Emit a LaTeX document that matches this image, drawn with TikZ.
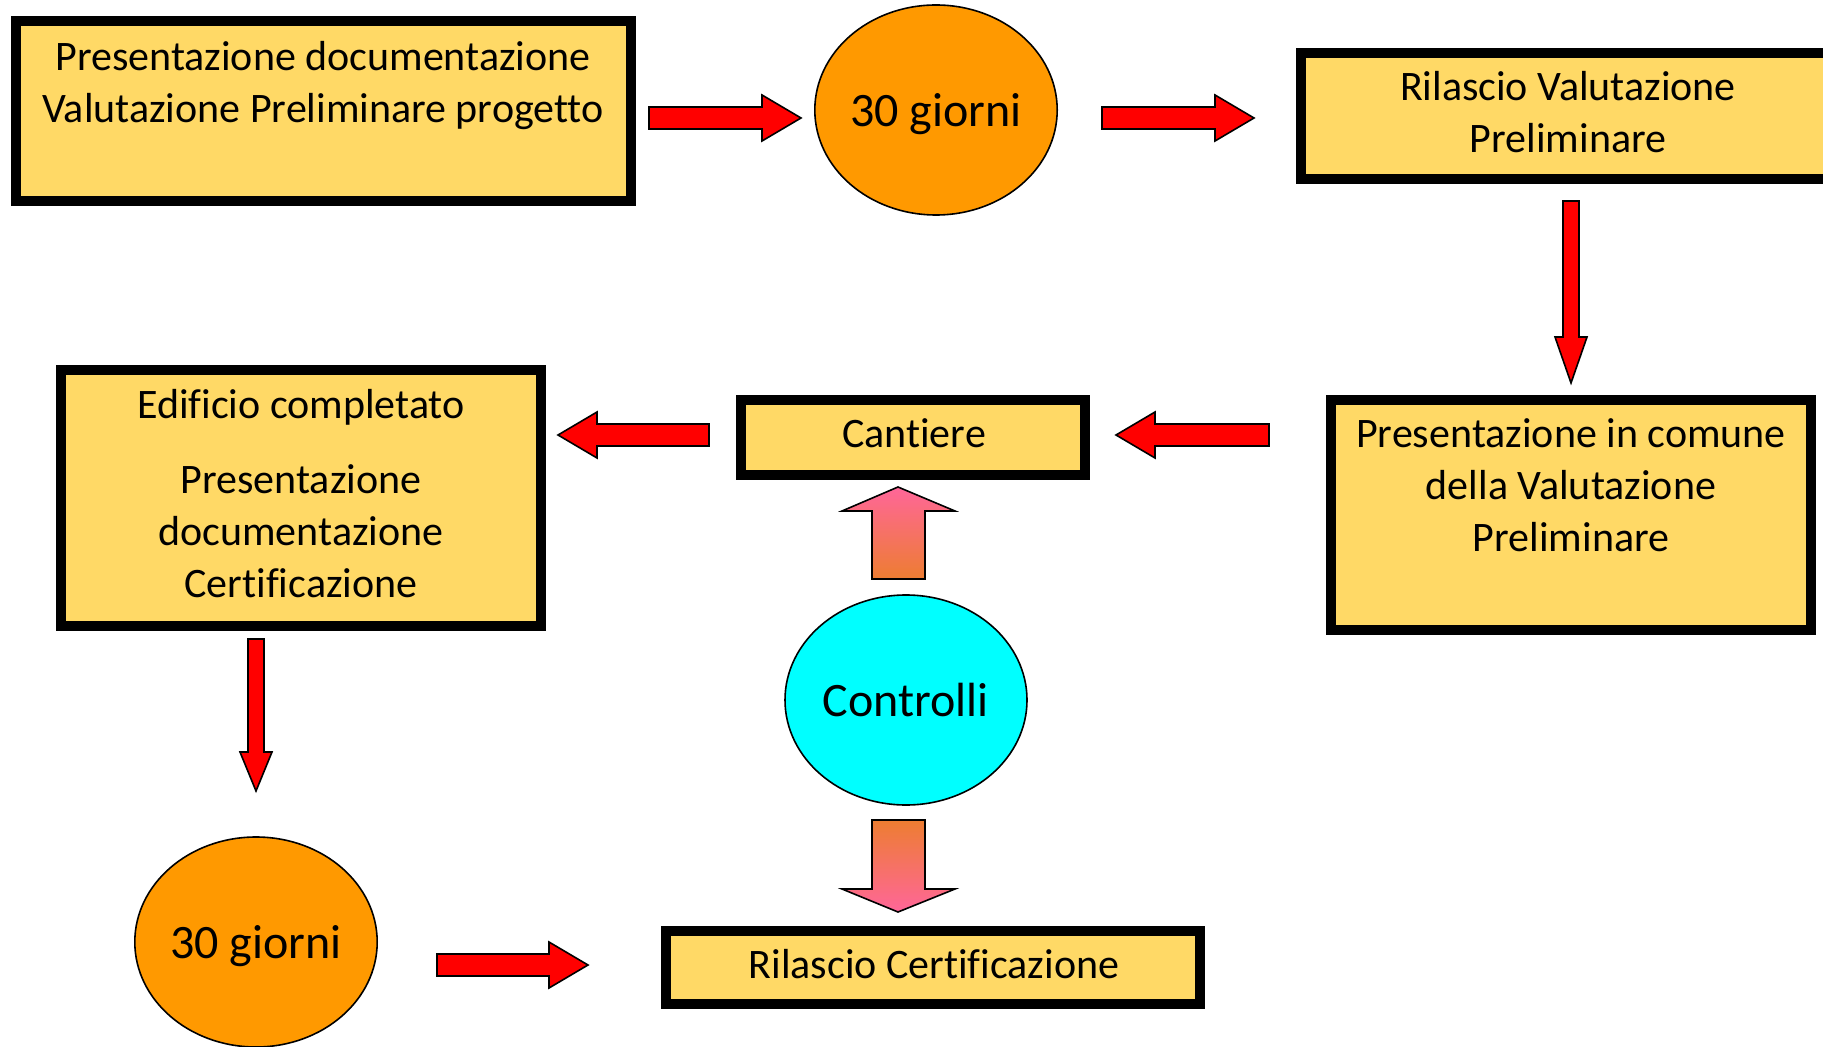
\documentclass[tikz,border=0pt]{standalone}
\usepackage{fontspec}
\setmainfont{Carlito}[RawFeature={-liga;-clig;-dlig}]
\usetikzlibrary{shapes.geometric}
\definecolor{boxfill}{HTML}{FFD966}
\definecolor{circorange}{HTML}{FF9900}
\definecolor{circcyan}{HTML}{00FFFF}
\definecolor{arrred}{HTML}{FF0000}
\definecolor{gpink}{HTML}{FF6699}
\definecolor{gorange}{HTML}{ED7D31}
\tikzset{
  box/.style={draw=black, line width=5pt, fill=boxfill, rectangle, inner sep=0pt},
  boxtxt/.style={font=\fontsize{21}{26}\selectfont, align=center, inner sep=0pt},
  circ/.style={draw=black, line width=0.8pt, ellipse, minimum width=121pt, minimum height=105pt, inner sep=0pt, font=\fontsize{24}{29}\selectfont},
  redarrow/.style={draw=black, line width=0.8pt, fill=arrred, line join=miter},
  pinkup/.style={draw=black, line width=0.8pt, top color=gpink, bottom color=gorange, line join=miter},
  pinkdown/.style={draw=black, line width=0.8pt, top color=gorange, bottom color=gpink, line join=miter}
}
\begin{document}
\begin{tikzpicture}[x=0.5pt, y=-0.5pt]
\useasboundingbox (0,0) rectangle (1823,1047);
\clip (0,0) rectangle (1823,1047);
\fill[white] (0,0) rectangle (1823,1047);

% boxes
\node[box, minimum width=307.5pt, minimum height=90pt] (b1) at (323.5,111) {};
\node[boxtxt] (b1t) at (323,85.5) {Presentazione documentazione\\Valutazione Preliminare progetto};

\node[box, minimum width=267.5pt, minimum height=63pt] (b3) at (1568.5,116) {};
\node[boxtxt] (b3t) at (1568,112.5) {Rilascio Valutazione\\Preliminare};

\node[box, minimum width=240pt, minimum height=115pt] (b4) at (1571,515) {};
\node[boxtxt] (b4t) at (1571,485.5) {Presentazione in comune\\della Valutazione\\Preliminare};

\node[box, minimum width=172pt, minimum height=37.5pt] (cant) at (913,437.5) {};
\node[boxtxt] (cantt) at (914,433) {Cantiere};

\node[box, minimum width=240pt, minimum height=128pt] (edif) at (301,498) {};
\node[boxtxt] (edift) at (301,494) {Edificio completato\\[11.5pt]Presentazione\\documentazione\\Certificazione};

\node[box, minimum width=267pt, minimum height=36.5pt] (rilc) at (933,967.5) {};
\node[boxtxt] (rilct) at (934,964) {Rilascio Certificazione};

% circles
\node[circ, fill=circorange, text depth=0pt] (c1) at (936,110) {30 giorni};
\node[circ, fill=circorange, text depth=0pt] (c2) at (256,942) {30 giorni};
\node[circ, fill=circcyan] (ctrl) at (906,700) {Controlli};

% red block arrows
% b1 -> c1
\draw[redarrow] (649,107) -- (762,107) -- (762,95) -- (801,118) -- (762,141) -- (762,129) -- (649,129) -- cycle;
% c1 -> b3
\draw[redarrow] (1102,107) -- (1215,107) -- (1215,95) -- (1254,118) -- (1215,141) -- (1215,129) -- (1102,129) -- cycle;
% b3 -> b4
\draw[redarrow] (1563,201) -- (1579,201) -- (1579,337) -- (1587,337) -- (1571,383) -- (1555,337) -- (1563,337) -- cycle;
% b4 -> cantiere
\draw[redarrow] (1269,424) -- (1155,424) -- (1155,412) -- (1116,435) -- (1155,458) -- (1155,446) -- (1269,446) -- cycle;
% cantiere -> edificio
\draw[redarrow] (709,424) -- (597,424) -- (597,412) -- (558,435) -- (597,458) -- (597,446) -- (709,446) -- cycle;
% edificio -> c2
\draw[redarrow] (248,639) -- (264,639) -- (264,752) -- (272,752) -- (256,791) -- (240,752) -- (248,752) -- cycle;
% c2 -> rilascio certificazione
\draw[redarrow] (437,954) -- (549,954) -- (549,942) -- (588,965) -- (549,988) -- (549,976) -- (437,976) -- cycle;

% pink gradient arrows
\draw[pinkup] (898,487) -- (955,511) -- (925,511) -- (925,579) -- (872,579) -- (872,511) -- (842,511) -- cycle;
\draw[pinkdown] (872,820) -- (925,820) -- (925,889) -- (955,889) -- (898,912) -- (842,889) -- (872,889) -- cycle;
\end{tikzpicture}
\end{document}
